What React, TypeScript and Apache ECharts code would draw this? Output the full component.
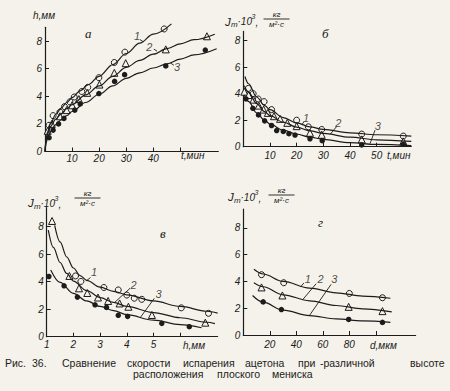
import React, { useEffect, useRef } from 'react';
import * as echarts from 'echarts';

const BG = '#f4f2ea';
const INK = '#1c1c1c';
const SANS = 'Liberation Sans, Arial, sans-serif';
const SERIF = 'Liberation Serif, DejaVu Serif, serif';

// ---------- Panel а: h, мм vs t, мин ----------
const aCircles = [[1.5, 1.9], [3.0, 2.6], [5.5, 2.85], [7.2, 3.25], [9.2, 3.6], [10.8, 3.95], [13.6, 4.35], [15.8, 4.65], [19.9, 5.35], [25.6, 6.45], [29.5, 7.2], [44.0, 8.88]];
const aTriangles = [[1.0, 1.5], [2.5, 2.0], [5.5, 2.55], [8.0, 3.0], [10.0, 3.35], [12.5, 3.8], [15.6, 4.25], [20.1, 4.85], [25.6, 5.7], [29.8, 6.4], [44.6, 7.4], [59.8, 8.35]];
const aDots = [[1.5, 1.0], [3.0, 1.55], [5.0, 2.0], [7.0, 2.4], [11.0, 3.0], [13.0, 3.45], [19.9, 4.2], [25.7, 5.08], [29.4, 5.57], [44.6, 6.2], [59.2, 7.35]];
const aCurve1 = [[0, 0], [0.5, 1.0], [1, 1.45], [2, 2.0], [4, 2.7], [6, 3.15], [8, 3.55], [10, 3.9], [13, 4.4], [16, 4.85], [20, 5.45], [25, 6.3], [30, 7.1], [35, 7.85], [40, 8.5], [46.7, 9.25]];
const aCurve2 = [[0, 0], [0.5, 0.9], [1, 1.3], [2, 1.8], [4, 2.35], [6, 2.75], [8, 3.1], [10, 3.4], [15, 4.1], [20, 4.75], [25, 5.45], [30, 6.1], [35, 6.6], [40, 7.05], [45, 7.45], [50, 7.8], [55, 8.1], [62.7, 8.5]];
const aCurve3 = [[0, 0], [0.5, 0.7], [1, 1.0], [2, 1.45], [4, 1.95], [6, 2.3], [8, 2.6], [10, 2.9], [15, 3.55], [20, 4.15], [25, 4.75], [30, 5.3], [35, 5.7], [40, 6.05], [45, 6.35], [50, 6.7], [55, 7.0], [63.4, 7.45]];
const aNums = [[34, 8.35, '1'], [38.5, 7.55, '2'], [48.8, 6.12, '3']];
const aLeaders = [[[35, 8.12], [36.3, 7.95]], [[40.2, 7.42], [41.4, 7.27]], [[47.6, 6.25], [46.3, 6.42]]];
const aXTicks = [10, 20, 30, 40, 50];
const aXLabels = [10, 20, 30, 40];

// ---------- Panel б: Jm·10³ vs t, мин ----------
const bCircles = [[1.9, 4.4], [3.7, 4.0], [5.6, 3.6], [7.8, 3.4], [10.6, 2.8], [20, 2.0], [24.4, 1.5], [29.4, 1.3], [44.4, 0.95], [60, 0.8]];
const bTriangles = [[0.4, 4.15], [2.0, 3.9], [3.8, 3.55], [5.8, 3.1], [7.6, 2.8], [9.2, 2.55], [11.5, 2.3], [13.8, 2.1], [16.5, 1.8], [20, 1.55], [25, 1.05], [29.4, 0.9], [44.4, 0.55], [60, 0.4]];
const bDots = [[1.0, 3.6], [3.6, 2.9], [5.7, 2.4], [8.0, 1.95], [10.6, 1.6], [12.5, 1.22], [15.0, 1.15], [17.1, 0.98], [19.4, 0.88], [25.0, 0.6], [29.6, 0.45], [44.4, 0.13], [60.0, 0.18]];
const bCurve1 = [[0.6, 5.3], [2, 4.75], [5, 3.75], [8, 3.1], [10, 2.8], [15, 2.2], [20, 1.8], [25, 1.5], [30, 1.3], [40, 1.05], [50, 0.9], [63, 0.8]];
const bCurve2 = [[0.4, 4.6], [2, 4.1], [5, 3.25], [8, 2.65], [10, 2.35], [15, 1.85], [20, 1.48], [25, 1.2], [30, 1.0], [40, 0.72], [50, 0.52], [63, 0.4]];
const bCurve3 = [[0.4, 3.9], [2, 3.4], [5, 2.55], [8, 2.0], [10, 1.7], [15, 1.25], [20, 0.95], [25, 0.72], [30, 0.55], [40, 0.3], [50, 0.17], [63, 0.08]];
const bNums = [[23.5, 2.15, '1'], [35.6, 1.8, '2'], [50.4, 1.55, '3']];
const bLeaders = [[[22.8, 1.89], [21.9, 1.66]], [[35, 1.52], [32.5, 0.92]], [[49.4, 1.25], [47.5, 0.22]]];
const bXTicks = [10, 20, 30, 40, 50];
const bXLabels = [10, 20, 30, 40, 50];

// ---------- Panel в: Jm·10³ vs h, мм ----------
const cCircles = [[2.08, 4.42], [2.28, 4.02], [3.14, 3.58], [3.68, 3.4], [4.0, 3.03], [4.28, 2.8], [4.56, 2.72], [6.04, 2.1], [7.06, 1.7]];
const cTriangles = [[1.2, 8.42], [1.85, 4.42], [2.21, 3.52], [2.52, 3.18], [2.92, 2.85], [3.3, 2.6], [3.73, 2.42], [4.06, 2.18], [4.94, 1.58], [6.94, 1.02]];
const cDots = [[1.08, 4.38], [1.65, 3.7], [2.15, 2.88], [2.81, 2.32], [3.24, 2.13], [3.68, 1.56], [4.03, 1.48], [5.31, 0.97], [6.34, 0.73]];
const cCurve1 = [[1.3, 8.1], [1.5, 6.9], [1.75, 5.8], [2, 5.0], [2.25, 4.45], [2.5, 4.1], [3, 3.6], [3.5, 3.3], [4, 3.05], [5, 2.6], [6, 2.2], [7, 1.85], [7.4, 1.72]];
const cCurve2 = [[1.06, 7.75], [1.25, 6.5], [1.5, 5.4], [1.75, 4.6], [2, 4.05], [2.5, 3.35], [3, 2.85], [3.5, 2.5], [4, 2.2], [5, 1.75], [6, 1.38], [7, 1.05], [7.3, 0.95]];
const cCurve3 = [[1.15, 4.85], [1.5, 3.95], [2, 3.15], [2.5, 2.6], [3, 2.2], [3.5, 1.9], [4, 1.6], [5, 1.2], [6, 0.88], [6.8, 0.65]];
const cNums = [[2.77, 4.72, '1'], [4.25, 3.76, '2'], [5.19, 3.1, '3']];
const cLeaders = [[[2.64, 4.3], [2.48, 4.06]], [[4.12, 3.52], [3.56, 2.52]], [[5.03, 2.79], [4.5, 1.38]]];
const cXTicks = [2, 3, 4, 5, 6];
const cXLabels = [1, 2, 3, 4, 5];

// ---------- Panel г: Jm·10³ vs d, мкм ----------
const dCircles = [[13.75, 4.5], [30.5, 3.9], [80, 3.1], [105, 2.78]];
const dTriangles = [[13.75, 3.55], [29.5, 2.95], [79.5, 2.1], [105, 1.78]];
const dDots = [[15, 2.47], [28.75, 1.9], [79.5, 1.16], [105, 0.94]];
const dCurve1 = [[8, 4.9], [15, 4.55], [30, 4.0], [50, 3.5], [70, 3.15], [90, 2.9], [111, 2.74]];
const dCurve2 = [[8, 3.9], [15, 3.6], [30, 3.0], [50, 2.55], [70, 2.2], [90, 1.95], [112, 1.73]];
const dCurve3 = [[7, 2.95], [15, 2.45], [30, 1.85], [50, 1.45], [70, 1.2], [90, 1.05], [111, 0.94]];
const dNums = [[48.75, 4.2, '1'], [58.25, 4.2, '2'], [68.75, 4.2, '3']];
const dLeaders = [[[45.75, 3.88], [43.25, 3.6]], [[55, 3.83], [45, 2.66]], [[66.25, 3.78], [50, 1.47]]];
const dXTicks = [20, 40, 60, 80, 100];
const dXLabels = [20, 40, 60, 80];

const yTicks = [2, 4, 6, 8];
const yLabels = [0, 2, 4, 6, 8];

const captionLine1: [string, number][] = [['Рис.', 5], ['36.', 32], ['Сравнение', 62], ['скорости', 127], ['испарения', 183], ['ацетона', 245], ['при', 298], ['-различной', 320], ['высоте', 410]];
const captionLine2: [string, number][] = [['расположения', 133], ['плоского', 217], ['мениска', 272]];

const labelStyle = { fontStyle: 'italic', fontSize: 10, fontFamily: SANS, color: INK };

function xAx(grid: number, min: number, max: number, ticks: number[], labels: number[], margin: number) {
  return {
    type: 'value', gridIndex: grid, min, max,
    axisLine: { show: true, onZero: false, lineStyle: { color: INK, width: 1.2 } },
    axisTick: { show: true, inside: true, length: 4, customValues: ticks, lineStyle: { color: INK, width: 1 } },
    axisLabel: { show: true, customValues: labels, margin, ...labelStyle },
    splitLine: { show: false },
  };
}
function yAx(grid: number, max: number) {
  return {
    type: 'value', gridIndex: grid, min: 0, max,
    axisLine: { show: true, onZero: false, lineStyle: { color: INK, width: 1.2 } },
    axisTick: { show: true, inside: true, length: 4, customValues: yTicks, lineStyle: { color: INK, width: 1 } },
    axisLabel: { show: true, customValues: yLabels, margin: 3, ...labelStyle },
    splitLine: { show: false },
  };
}

function panelSeries(p: number, circles: number[][], tris: number[][], dots: number[][], curves: number[][][], nums: any[], leaders: number[][][]) {
  const base = { xAxisIndex: p, yAxisIndex: p };
  const s: any[] = curves.map((c) => ({
    ...base, type: 'line', data: c, smooth: 0.35, smoothMonotone: 'x', showSymbol: false, clip: false,
    lineStyle: { color: INK, width: 1.2 }, silent: true,
  }));
  s.push({ ...base, type: 'scatter', data: circles, symbol: 'circle', symbolSize: 6, itemStyle: { color: BG, borderColor: INK, borderWidth: 1, opacity: 1 } });
  s.push({ ...base, type: 'scatter', data: tris, symbol: 'triangle', symbolSize: 7, itemStyle: { color: BG, borderColor: INK, borderWidth: 1, opacity: 1 } });
  s.push({ ...base, type: 'scatter', data: dots, symbol: 'circle', symbolSize: 5.5, itemStyle: { color: INK, opacity: 1 } });
  s.push({
    ...base, type: 'scatter', symbolSize: 0, silent: true,
    data: nums.map((n) => ({ value: [n[0], n[1]], name: n[2] })),
    label: { show: true, position: 'inside', formatter: '{b}', ...labelStyle, fontSize: 11 },
    markLine: {
      silent: true, symbol: ['none', 'none'], label: { show: false },
      lineStyle: { color: INK, width: 0.9, type: 'solid' },
      data: leaders.map((l) => [{ coord: l[0] }, { coord: l[1] }]),
    },
  });
  return s;
}

function txt(x: number, y: number, text: string, size: number, opts: any = {}) {
  return {
    type: 'text', x, y, silent: true,
    style: {
      text, fontSize: size, fontStyle: 'italic', fontFamily: SANS, fill: INK,
      align: 'left', verticalAlign: 'middle', ...opts,
    },
  };
}

function jName(x: number, y: number, fx: number, fy: number) {
  return [
    txt(x, y, 'J', 11.5),
    txt(x + 6, y + 3, 'm', 8),
    txt(x + 12.5, y, '·10', 10),
    txt(x + 26.5, y - 5, '3', 7),
    txt(x + 30.5, y + 1, ',', 10),
    { type: 'line', silent: true, shape: { x1: fx - 13, y1: fy, x2: fx + 13, y2: fy }, style: { stroke: INK, lineWidth: 0.9 } },
    txt(fx, fy - 4.5, 'кг', 8, { align: 'center' }),
    txt(fx, fy + 5.5, 'м²·с', 8, { align: 'center' }),
  ];
}

function buildOption() {
  const capStyle = { fontStyle: 'normal', fontWeight: 'normal', fontSize: 10.5 };
  const graphics: any[] = [
    txt(33, 15, 'h,мм', 10),
    txt(181, 155, 't,мин', 10),
    txt(387, 155, 't,мин', 10),
    txt(183, 345, 'h,мм', 10),
    txt(370, 345, 'd,мкм', 10),
    ...jName(225, 21.5, 276.5, 19),
    ...jName(28, 203, 87.5, 198),
    ...jName(228, 197, 281.5, 195),
    txt(85, 33, 'а', 13, { fontFamily: SERIF }),
    txt(322, 33, 'б', 13, { fontFamily: SERIF }),
    txt(160, 233, 'в', 13, { fontFamily: SERIF }),
    txt(318, 222, 'г', 13, { fontFamily: SERIF }),
    ...captionLine1.map(([w, x]) => txt(x, 363, w, 10.5, capStyle)),
    ...captionLine2.map(([w, x]) => txt(x, 373.5, w, 10.5, capStyle)),
  ];

  return {
    animation: false,
    backgroundColor: BG,
    grid: [
      { left: 45, top: 27.3, width: 173.3, height: 124.2, containLabel: false, outerBoundsMode: 'none' },
      { left: 243.3, top: 31.4, width: 168, height: 115.3, containLabel: false, outerBoundsMode: 'none' },
      { left: 46.7, top: 207.5, width: 170.9, height: 129.2, containLabel: false, outerBoundsMode: 'none' },
      { left: 243.3, top: 209, width: 172.3, height: 126, containLabel: false, outerBoundsMode: 'none' },
    ],
    xAxis: [
      xAx(0, 0, 64, aXTicks, aXLabels, 2),
      xAx(1, 0, 63, bXTicks, bXLabels, 4),
      xAx(2, 1, 7.4, cXTicks, cXLabels, 3),
      xAx(3, 0, 130, dXTicks, dXLabels, 4),
    ],
    yAxis: [yAx(0, 9), yAx(1, 8.7), yAx(2, 9.4), yAx(3, 9.4)],
    series: [
      ...panelSeries(0, aCircles, aTriangles, aDots, [aCurve1, aCurve2, aCurve3], aNums, aLeaders),
      ...panelSeries(1, bCircles, bTriangles, bDots, [bCurve1, bCurve2, bCurve3], bNums, bLeaders),
      ...panelSeries(2, cCircles, cTriangles, cDots, [cCurve1, cCurve2, cCurve3], cNums, cLeaders),
      ...panelSeries(3, dCircles, dTriangles, dDots, [dCurve1, dCurve2, dCurve3], dNums, dLeaders),
    ],
    graphic: graphics,
  };
}

export default function App() {
  const ref = useRef<HTMLDivElement>(null);
  useEffect(() => {
    document.body.style.margin = '0';
    document.body.style.background = BG;
    const chart = echarts.init(ref.current!, null, { renderer: 'svg' });
    chart.setOption(buildOption() as any);
    return () => chart.dispose();
  }, []);
  return <div ref={ref} style={{ position: 'fixed', left: 0, top: 0, width: 450, height: 391, background: BG }} />;
}
